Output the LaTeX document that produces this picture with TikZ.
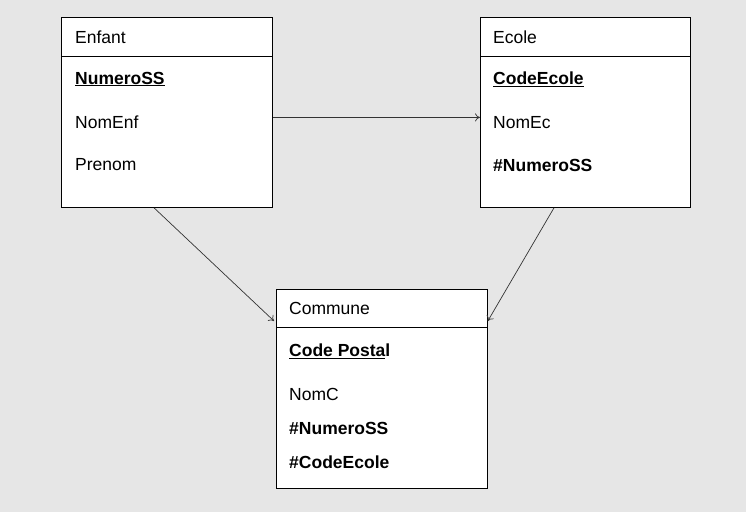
\documentclass[tikz,border=0pt]{standalone}
\usepackage{fontspec}
\setmainfont{Liberation Sans}
\usetikzlibrary{arrows.meta}
\definecolor{bg}{HTML}{E6E6E6}
\definecolor{ln}{HTML}{333333}
\begin{document}
\begin{tikzpicture}[x=1pt,y=-1pt,
  entity/.style={draw=black,fill=white,line width=0.8pt,anchor=north west,minimum width=#1,inner sep=0pt},
  attr/.style={anchor=west,inner sep=0pt,font=\fontsize{17.5}{20}\selectfont},
  conn/.style={draw=ln,line width=0.7pt,-{To[length=5pt,width=8pt]}}]
\fill[bg] (0,0) rectangle (746,512);
\useasboundingbox (0,0) rectangle (746,512);
% boxes
\node[entity=211pt,minimum height=190pt] (enfant) at (61,17) {};
\node[entity=210pt,minimum height=190pt] (ecole) at (480,17) {};
\node[entity=211pt,minimum height=199pt] (commune) at (276,289) {};
% header separators
\draw[line width=0.8pt] ([yshift=-39pt]enfant.north west) -- ([yshift=-39pt]enfant.north east);
\draw[line width=0.8pt] ([yshift=-39pt]ecole.north west) -- ([yshift=-39pt]ecole.north east);
\draw[line width=0.8pt] ([yshift=-38pt]commune.north west) -- ([yshift=-38pt]commune.north east);
% Enfant texts
\node[attr] (t1) at (75,37) {Enfant};
\node[attr] (t2) at (75,79) {\textbf{\underline{NumeroSS}}};
\node[attr] (t3) at (75,122) {NomEnf};
\node[attr] (t4) at (75,165) {Prenom};
% Ecole texts
\node[attr] (e1) at (493,37) {Ecole};
\node[attr] (e2) at (493,79) {\textbf{\underline{CodeEcole}}};
\node[attr] (e3) at (493,123) {NomEc};
\node[attr] (e4) at (493,165) {\textbf{\#NumeroSS}};
% Commune texts
\node[attr] (c1) at (289,308) {Commune};
\node[attr] (c2) at (289,351) {\textbf{\underline{Code Posta}l}};
\node[attr] (c3) at (289,394) {NomC};
\node[attr] (c4) at (289,428) {\textbf{\#NumeroSS}};
\node[attr] (c5) at (289,462) {\textbf{\#CodeEcole}};
% connectors
\draw[conn] ([yshift=-5pt]enfant.east) -- ([yshift=-5pt]ecole.west);
\draw[conn] ([xshift=93pt]enfant.south west) -- ([xshift=-2pt,yshift=-32pt]commune.north west);
\draw[conn] ([xshift=74pt]ecole.south west) -- ([yshift=-32pt]commune.north east);
\end{tikzpicture}
\end{document}
